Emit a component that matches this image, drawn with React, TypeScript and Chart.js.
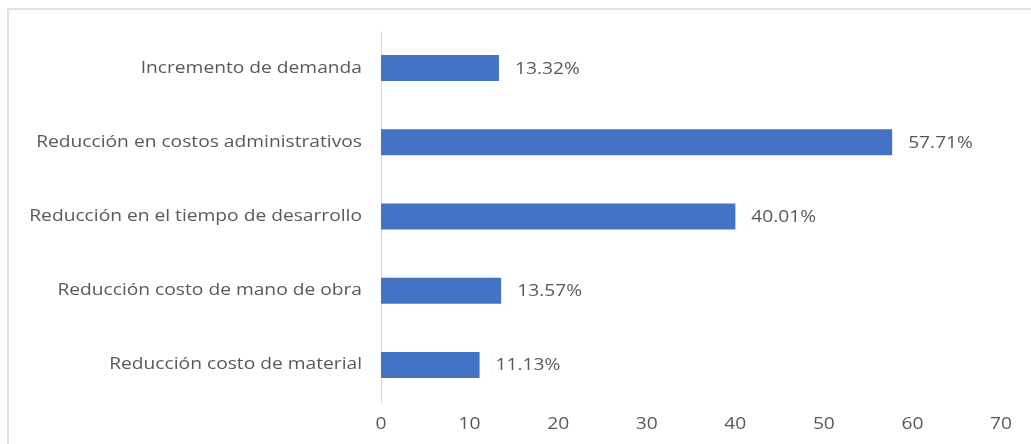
import React, { useEffect, useRef } from "react";
import { Chart, registerables } from "chart.js";

Chart.register(...registerables);

const categories = [
  "Incremento de demanda",
  "Reducción en costos administrativos",
  "Reducción en el tiempo de desarrollo",
  "Reducción costo de mano de obra",
  "Reducción costo de material",
];
const values = [13.32, 57.71, 40.01, 13.57, 11.13];
const valueLabels = ["13.32%", "57.71%", "40.01%", "13.57%", "11.13%"];
const xTicks = [0, 10, 20, 30, 40, 50, 60, 70];

const FONT = "'Open Sans', 'Noto Sans', sans-serif";
const TEXT = "#595959";
const STRETCH = 1.2;

// Draw all chart text slightly widened, as in the reference rendering.
const stretchPlugin = {
  id: "stretch",
  beforeDraw(chart: any) {
    const ctx = chart.ctx as any;
    if (!ctx.__origFillText) {
      const orig = ctx.fillText.bind(ctx);
      ctx.__origFillText = orig;
      ctx.fillText = (text: string, x: number, y: number, maxWidth?: number) => {
        ctx.save();
        ctx.translate(x, y);
        ctx.scale(STRETCH, 1);
        if (maxWidth !== undefined) orig(text, 0, 0, maxWidth / STRETCH);
        else orig(text, 0, 0);
        ctx.restore();
      };
    }
  },
};

const valueLabelPlugin = {
  id: "valueLabels",
  afterDatasetsDraw(chart: any) {
    const ctx = chart.ctx;
    const meta = chart.getDatasetMeta(0);
    ctx.save();
    ctx.font = `16px ${FONT}`;
    ctx.fillStyle = TEXT;
    ctx.textAlign = "left";
    ctx.textBaseline = "middle";
    meta.data.forEach((bar: any, i: number) => {
      ctx.fillText(valueLabels[i], bar.x + 16, bar.y + 1);
    });
    ctx.restore();
  },
};

export default function App() {
  const ref = useRef<HTMLCanvasElement>(null);
  useEffect(() => {
    if (!ref.current) return;
    const chart = new Chart(ref.current, {
      type: "bar",
      data: {
        labels: categories,
        datasets: [
          {
            data: values,
            backgroundColor: "#4472C4",
            barPercentage: 0.7,
            categoryPercentage: 0.5,
          },
        ],
      },
      options: {
        indexAxis: "y",
        animation: false,
        responsive: false,
        maintainAspectRatio: false,
        layout: { padding: { top: 31, right: 30, left: 0, bottom: 0 } },
        plugins: { legend: { display: false }, tooltip: { enabled: false } },
        scales: {
          x: {
            min: 0,
            max: 70,
            afterBuildTicks: (scale: any) => {
              scale.ticks = xTicks.map((v) => ({ value: v }));
            },
            grid: { display: false, drawTicks: false },
            border: { display: false },
            ticks: {
              color: TEXT,
              font: { family: FONT, size: 16 },
              padding: 13,
            },
            afterFit: (scale: any) => {
              scale.height = 42;
            },
          },
          y: {
            grid: { display: false, drawTicks: false },
            border: { display: true, color: "#d9d9d9", width: 1 },
            ticks: {
              color: TEXT,
              font: { family: FONT, size: 16 },
              padding: 19,
            },
            afterFit: (scale: any) => {
              scale.width = 381;
            },
          },
        },
      },
      plugins: [stretchPlugin, valueLabelPlugin],
    });
    return () => chart.destroy();
  }, []);
  return (
    <div style={{ position: "fixed", left: 0, top: 0, width: 1031, height: 444, background: "#fff", overflow: "hidden" }}>
      <div
        style={{
          position: "absolute",
          left: 7,
          top: 8,
          width: 1040,
          height: 460,
          border: "2px solid #e2e2e2",
          boxSizing: "border-box",
        }}
      />
      <canvas ref={ref} width={1031} height={444} style={{ position: "absolute", left: 0, top: 0 }} />
    </div>
  );
}
